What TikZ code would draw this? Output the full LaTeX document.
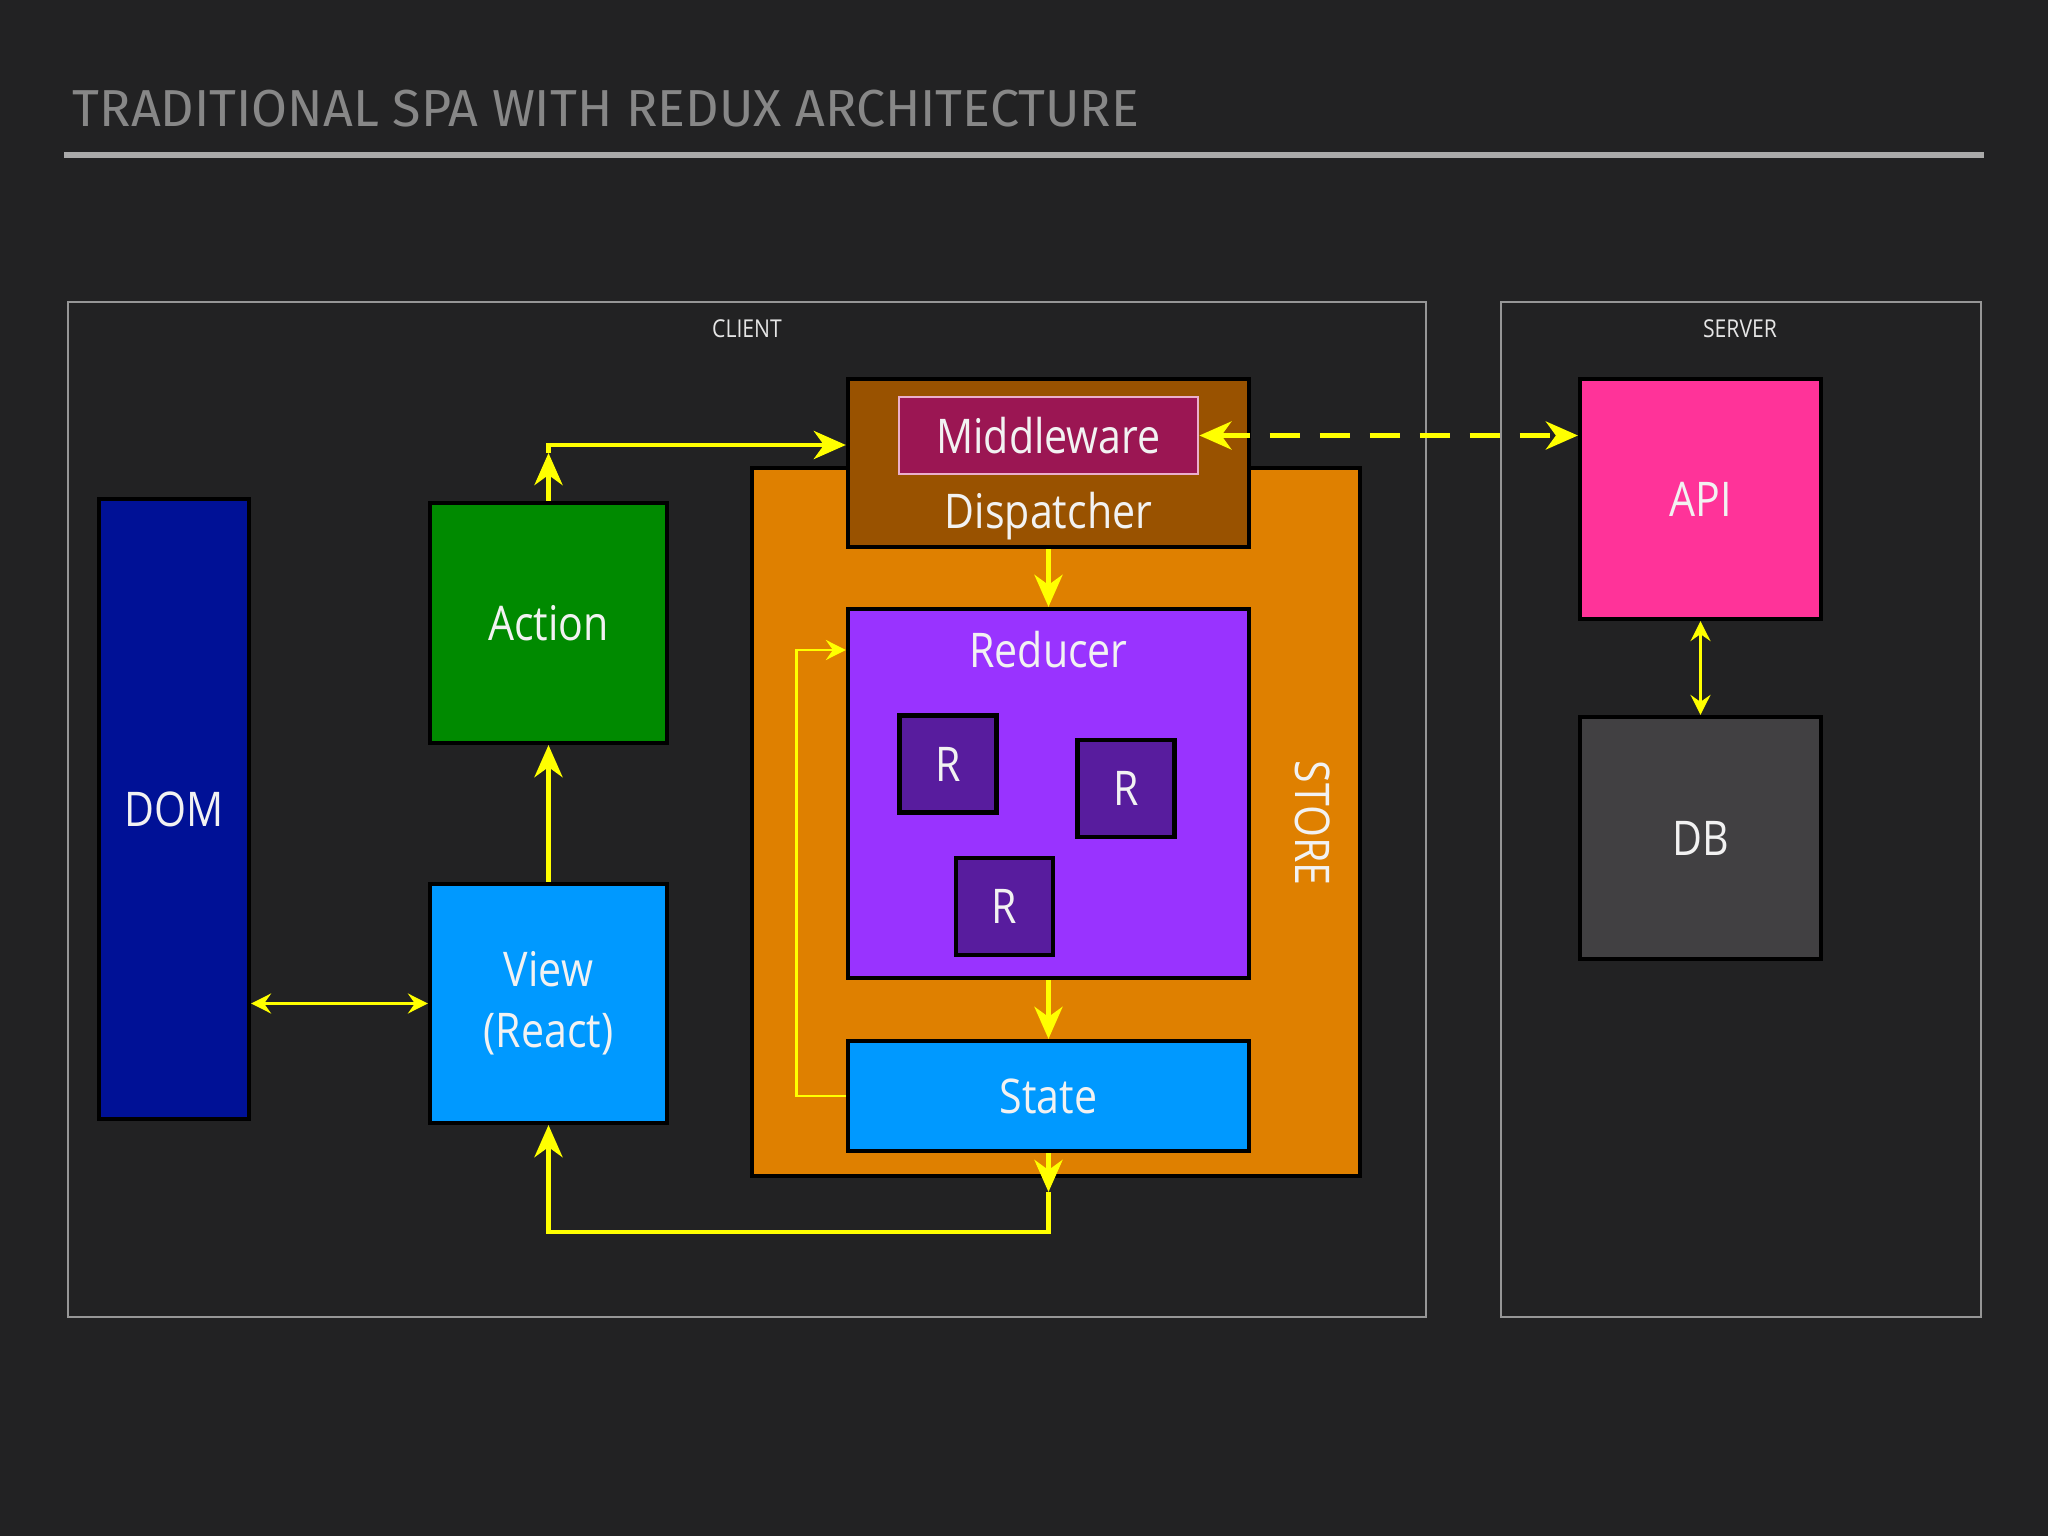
\documentclass[tikz,border=0pt]{standalone}
\usepackage{fontspec}
\setmainfont{Open Sans}
\newfontfamily\boxfont[FakeStretch=0.86]{Open Sans}
\newfontfamily\titlefont{Fira Sans}
\usetikzlibrary{arrows.meta}
\definecolor{bggray}{RGB}{34,34,35}
\definecolor{titlegray}{RGB}{135,135,135}
\definecolor{rulegray}{RGB}{170,170,170}
\definecolor{framegray}{RGB}{150,150,150}
\definecolor{domblue}{RGB}{0,17,150}
\definecolor{actiongreen}{RGB}{0,138,0}
\definecolor{viewblue}{RGB}{0,153,255}
\definecolor{storeorange}{RGB}{223,128,0}
\definecolor{dispbrown}{RGB}{153,82,0}
\definecolor{mwred}{RGB}{155,22,83}
\definecolor{mwborder}{RGB}{235,175,205}
\definecolor{reducerpurple}{RGB}{153,51,255}
\definecolor{rpurple}{RGB}{88,28,158}
\definecolor{apipink}{RGB}{255,51,153}
\definecolor{dbgray}{RGB}{65,64,66}
\definecolor{flowyellow}{RGB}{255,255,0}

\begin{document}
\begin{tikzpicture}[
  box/.style={draw=black, line width=1.2pt, inner sep=0pt, text=white!95!black,
    font=\boxfont\fontsize{13.6}{17.4}\selectfont},
  boxtext/.style={text=white!95!black, inner sep=0pt, font=\boxfont\fontsize{13.6}{17.4}\selectfont},
  smalllabel/.style={text=white!90!black, font=\boxfont\fontsize{7}{8}\selectfont},
  flow/.style={draw=flowyellow, line width=1.4pt, >={Stealth[length=0.32cm,width=0.28cm,inset=0.1cm]}, ->},
  thinflow/.style={draw=flowyellow, line width=0.8pt, >={Stealth[length=0.2cm,width=0.2cm,inset=0.07cm]}, ->},
  frame/.style={draw=framegray, line width=0.8pt}
]
\fill[bggray] (0,0) rectangle (20.48,-15.36);
\useasboundingbox (0,0) rectangle (20.48,-15.36);

\node[anchor=west, inner sep=0pt, text=titlegray, font=\titlefont\fontsize{14.8}{16}\selectfont] (title) at (0.72,-1.09) {TRADITIONAL SPA WITH REDUX ARCHITECTURE};
\draw[rulegray, line width=1.5pt] (0.64,-1.55) -- (19.84,-1.55);

\draw[frame] (0.68,-3.02) rectangle (14.26,-13.17);
\draw[frame] (15.01,-3.02) rectangle (19.81,-13.17);
\node[smalllabel] (clientlbl) at (7.47,-3.29) {CLIENT};
\node[smalllabel] (serverlbl) at (17.40,-3.29) {SERVER};

\node[box, fill=storeorange, minimum width=6.08cm, minimum height=7.08cm] (store) at (10.56,-8.22) {};
\node[boxtext, rotate=-90] (storelbl) at (13.13,-8.23) {STORE};
\node[box, fill=dispbrown, minimum width=4.01cm, minimum height=1.68cm] (disp) at (10.485,-4.63) {};
\node[boxtext] (disptext) at (10.485,-5.16) {Dispatcher};
\node[box, draw=mwborder, line width=0.8pt, fill=mwred, minimum width=2.99cm, minimum height=0.77cm] (mw) at (10.485,-4.355) {Middleware};
\node[box, fill=reducerpurple, minimum width=4.01cm, minimum height=3.69cm] (reducer) at (10.485,-7.935) {};
\node[boxtext] (reducertext) at (10.485,-6.50) {Reducer};
\foreach \name/\x/\y in {r1/9.48/-7.64, r2/11.26/-7.885, r3/10.045/-9.065}
  \node[box, fill=rpurple, minimum size=0.97cm] (\name) at (\x,\y) {R};
\node[box, fill=viewblue, minimum width=4.01cm, minimum height=1.10cm] (state) at (10.485,-10.96) {State};

\node[box, fill=domblue, minimum width=1.50cm, minimum height=6.20cm] (dom) at (1.74,-8.09) {DOM};
\node[box, fill=actiongreen, minimum width=2.37cm, minimum height=2.40cm] (action) at (5.485,-6.23) {Action};
\node[box, fill=viewblue, minimum width=2.37cm, minimum height=2.39cm, align=center] (view) at (5.485,-10.035) {View\\(React)};

\node[box, fill=apipink, minimum width=2.41cm, minimum height=2.40cm] (api) at (17.005,-4.99) {API};
\node[box, fill=dbgray, minimum width=2.41cm, minimum height=2.42cm] (db) at (17.005,-8.38) {DB};

\coordinate (acttip) at (5.485,-4.53);
\coordinate (actcorner) at (5.485,-4.45);
\draw[flow] (action.north) -- (acttip);
\draw[flow] (acttip) -- (actcorner) -- (actcorner -| disp.west);
\draw[flow] (view.north) -- (action.south);
\draw[thinflow, <->] (dom.east |- view.west) -- (view.west);
\draw[flow] (disp.south) -- (reducer.north);
\draw[flow] (reducer.south) -- (state.north);
\draw[thinflow] (state.west) -- ++(-0.49,0) |- (reducer.west |- reducertext);
\coordinate (statetip) at (10.485,-11.92);
\coordinate (bottomcorner) at (10.485,-12.32);
\draw[flow] (state.south) -- (statetip);
\draw[flow] (statetip) -- (bottomcorner) -| (view.south);
\draw[flow, <->, dash pattern=on 0.3cm off 0.2cm] (mw.east) -- (api.west |- mw.east);
\draw[thinflow, <->] (api.south) -- (db.north);
\end{tikzpicture}
\end{document}
